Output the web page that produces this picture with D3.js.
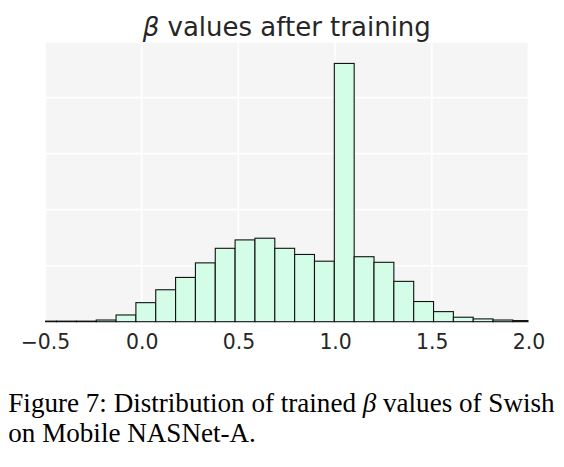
<!DOCTYPE html>
<html>
<head>
<meta charset="utf-8">
<script src="https://cdn.jsdelivr.net/npm/d3@7"></script>
<style>
  html, body { margin: 0; padding: 0; background: #ffffff; }
  svg { display: block; }
</style>
</head>
<body>
<svg id="chart" width="564" height="467"></svg>
<script>
// ---- data ----
const binStart = -0.543;      // left edge of first histogram bin
const binWidth = 0.1026;      // width of each bin
const counts = [1, 1, 1, 3, 12, 34, 57, 79, 105, 131, 146, 149, 131, 120, 108, 461, 116, 106, 72, 36, 18, 8, 5, 3, 2];
const xTicks = [-0.5, 0.0, 0.5, 1.0, 1.5, 2.0];
const yGrid = [100, 200, 300, 400];
const titleText = "values after training";
const captionLine1 = ["Figure 7: Distribution of trained ", "β", " values of Swish"];
const captionLine2 = "on Mobile NASNet-A.";

// ---- layout ----
const svg = d3.select("#chart");
const plot = { left: 45, right: 528.5, top: 42.7, bottom: 321.7 };

const x = d3.scaleLinear().domain([-0.5, 2.0]).range([plot.left, plot.right]);
const y = d3.scaleLinear().domain([0, 498]).range([plot.bottom, plot.top]);

const bins = counts.map((c, i) => ({ x0: binStart + i * binWidth, x1: binStart + (i + 1) * binWidth, c }));

svg.append("defs").append("clipPath").attr("id", "clip")
  .append("rect")
  .attr("x", plot.left).attr("y", plot.top - 2)
  .attr("width", plot.right - plot.left).attr("height", plot.bottom - plot.top + 4);

// background
svg.append("rect")
  .attr("x", plot.left).attr("y", plot.top)
  .attr("width", plot.right - plot.left).attr("height", plot.bottom - plot.top)
  .attr("fill", "#f5f5f5");

// grid
const grid = svg.append("g");
grid.selectAll("line.v").data(xTicks).enter().append("line")
  .attr("x1", d => x(d)).attr("x2", d => x(d))
  .attr("y1", plot.top).attr("y2", plot.bottom)
  .attr("stroke", "#ffffff").attr("stroke-width", 1.6);
grid.selectAll("line.h").data(yGrid).enter().append("line")
  .attr("x1", plot.left).attr("x2", plot.right)
  .attr("y1", d => y(d)).attr("y2", d => y(d))
  .attr("stroke", "#ffffff").attr("stroke-width", 1.6);

// bars
svg.append("g").attr("clip-path", "url(#clip)")
  .selectAll("rect").data(bins).enter().append("rect")
  .attr("x", d => x(d.x0))
  .attr("width", d => x(d.x1) - x(d.x0))
  .attr("y", d => y(d.c))
  .attr("height", d => y(0) - y(d.c))
  .attr("fill", "#d3fde6")
  .attr("stroke", "#111111")
  .attr("stroke-width", 1.1);

// x axis labels (no ticks, no spine)
const xAxis = d3.axisBottom(x).tickValues(xTicks).tickFormat(d3.format(".1f")).tickSize(0).tickPadding(0);
const gx = svg.append("g").attr("transform", `translate(0, ${plot.bottom})`).call(xAxis);
gx.select(".domain").remove();
gx.selectAll("text")
  .attr("dy", null)
  .attr("y", 27.6)
  .attr("fill", "#262626")
  .style("font-family", "'DejaVu Sans', sans-serif")
  .style("font-size", "20.4px");

// title
const title = svg.append("text")
  .attr("x", (plot.left + plot.right) / 2)
  .attr("y", 36)
  .attr("text-anchor", "middle")
  .attr("fill", "#262626")
  .style("font-family", "'DejaVu Sans', sans-serif")
  .style("font-size", "26px");
title.append("tspan").style("font-style", "italic").text("β");
title.append("tspan").text(" " + titleText);

// caption
const cap1 = svg.append("text")
  .attr("x", 8.3).attr("y", 412.3)
  .attr("fill", "#000000")
  .style("font-family", "'Liberation Serif', 'Times New Roman', serif")
  .style("font-size", "27.1px");
captionLine1.forEach((t, i) => {
  const ts = cap1.append("tspan").text(t);
  if (i === 1) ts.style("font-style", "italic");
});
svg.append("text")
  .attr("x", 8.3).attr("y", 441.7)
  .attr("fill", "#000000")
  .style("font-family", "'Liberation Serif', 'Times New Roman', serif")
  .style("font-size", "27.1px")
  .text(captionLine2);
</script>
</body>
</html>
